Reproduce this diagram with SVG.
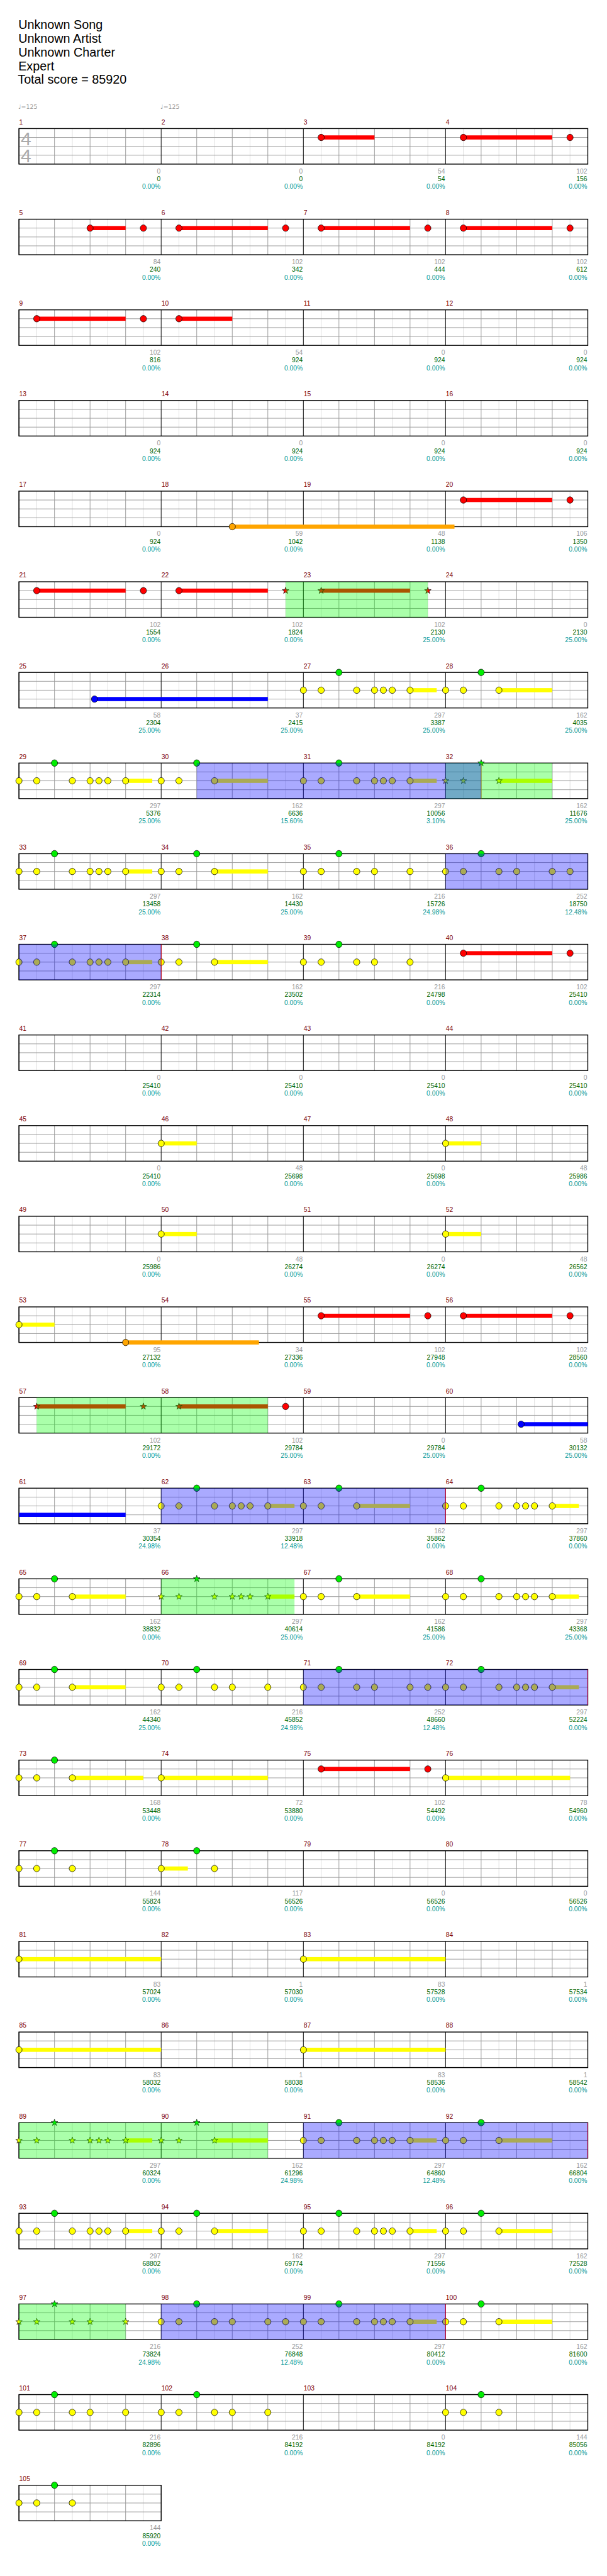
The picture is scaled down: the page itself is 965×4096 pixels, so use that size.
<svg xmlns="http://www.w3.org/2000/svg" width="965" height="4096" viewBox="0 0 965 4096">
<style>
text{font-family:"Liberation Sans",Arial,sans-serif}
.t{font-size:21px;fill:#000}
.tp{font-family:"DejaVu Sans",sans-serif;font-size:10px;fill:#999}
.ts{font-size:32px;fill:#aaa}
.mn{font-size:11px;fill:#800000}
.a,.b,.c{font-size:11px;text-anchor:end}
.a{fill:#999}.b{fill:#060}.c{fill:#099}
.l1{stroke:#ddd;fill:none}.l2{stroke:#999;fill:none}.l3{stroke:#000;fill:none}
.bd{fill:none;stroke:#000;stroke-width:1.5}
.R{fill:#f00}.Y{fill:#ff0}.G{fill:#0e0}.B{fill:#00f}.O{fill:#ffa500}
.gr{fill:#0f0;fill-opacity:.333}.bl{fill:#00f;fill-opacity:.333}
.rl{stroke:#f00;fill:none}
</style>
<defs>
<ellipse id="n" rx="5.3" ry="5.5" stroke="#000" stroke-width=".8"/>
<path id="s" d="M0-5.85L1.38-1.89L5.56-1.81L2.22.72L3.44 4.73L0 2.34L-3.44 4.73L-2.22.72L-5.56-1.81L-1.38-1.89Z" stroke="#000" stroke-width=".7"/>
<g id="gm"><path class="l1" d="M30 0V60M90 0V60M150 0V60M210 0V60"/><path class="l2" d="M60 0V60M120 0V60M180 0V60M0 15H240M0 30H240M0 45H240"/><path class="l3" d="M0 0V60"/></g>
<g id="g4"><use href="#gm" x="32"/><use href="#gm" x="272"/><use href="#gm" x="512"/><use href="#gm" x="752"/><rect x="32" y="0" width="960" height="60" class="bd"/></g>
<g id="g1"><use href="#gm" x="32"/><rect x="32" y="0" width="240" height="60" class="bd"/></g>
<g id="pA"><rect class="Y" x="180" y="26.5" width="45" height="7"/><use href="#n" x="0" y="30" class="Y"/><use href="#n" x="30" y="30" class="Y"/><use href="#n" x="90" y="30" class="Y"/><use href="#n" x="120" y="30" class="Y"/><use href="#n" x="135" y="30" class="Y"/><use href="#n" x="150" y="30" class="Y"/><use href="#n" x="180" y="30" class="Y"/><use href="#n" x="60" y="0" class="G"/></g>
<g id="pB"><rect class="Y" x="90" y="26.5" width="90" height="7"/><use href="#n" x="0" y="30" class="Y"/><use href="#n" x="30" y="30" class="Y"/><use href="#n" x="90" y="30" class="Y"/><use href="#n" x="60" y="0" class="G"/></g>
<g id="pC"><use href="#n" x="0" y="30" class="Y"/><use href="#n" x="30" y="30" class="Y"/><use href="#n" x="90" y="30" class="Y"/><use href="#n" x="120" y="30" class="Y"/><use href="#n" x="180" y="30" class="Y"/><use href="#n" x="60" y="0" class="G"/></g>
<g id="pD"><use href="#n" x="0" y="30" class="Y"/><use href="#n" x="30" y="30" class="Y"/><use href="#n" x="90" y="30" class="Y"/><use href="#n" x="120" y="30" class="Y"/><use href="#n" x="180" y="30" class="Y"/><use href="#n" x="210" y="30" class="Y"/><use href="#n" x="60" y="0" class="G"/></g>
<g id="pF"><use href="#n" x="0" y="30" class="Y"/><use href="#n" x="30" y="30" class="Y"/><use href="#n" x="90" y="30" class="Y"/><use href="#n" x="60" y="0" class="G"/></g>
<g id="pR"><rect class="R" x="30" y="11.5" width="150" height="7"/><use href="#n" x="30" y="15" class="R"/><use href="#n" x="210" y="15" class="R"/></g>
<g id="sA"><rect class="Y" x="180" y="26.5" width="45" height="7"/><use href="#s" x="0" y="30" class="Y"/><use href="#s" x="30" y="30" class="Y"/><use href="#s" x="90" y="30" class="Y"/><use href="#s" x="120" y="30" class="Y"/><use href="#s" x="135" y="30" class="Y"/><use href="#s" x="150" y="30" class="Y"/><use href="#s" x="180" y="30" class="Y"/><use href="#s" x="60" y="0" class="G"/></g>
<g id="sB"><rect class="Y" x="90" y="26.5" width="90" height="7"/><use href="#s" x="0" y="30" class="Y"/><use href="#s" x="30" y="30" class="Y"/><use href="#s" x="90" y="30" class="Y"/><use href="#s" x="60" y="0" class="G"/></g>
<g id="sC"><use href="#s" x="0" y="30" class="Y"/><use href="#s" x="30" y="30" class="Y"/><use href="#s" x="90" y="30" class="Y"/><use href="#s" x="120" y="30" class="Y"/><use href="#s" x="180" y="30" class="Y"/><use href="#s" x="60" y="0" class="G"/></g>
<g id="pL"><rect class="Y" x="0" y="26.5" width="240" height="7"/><use href="#n" x="0" y="30" class="Y"/></g>
<g id="pS"><rect class="Y" x="0" y="26.5" width="60" height="7"/><use href="#n" x="0" y="30" class="Y"/></g>
</defs>
<g transform="scale(0.942)">
<rect x="0" y="0" width="1024" height="4348" fill="#fff"/>
<g id="header">
<text class="t" x="31" y="49">Unknown Song</text>
<text class="t" x="31" y="72">Unknown Artist</text>
<text class="t" x="31" y="95.5">Unknown Charter</text>
<text class="t" x="31" y="118.5">Expert</text>
<text class="t" x="30" y="141.5">Total score = 85920</text>
<text class="tp" x="31" y="184">♩=125</text>
<text class="tp" x="271" y="184">♩=125</text>
</g>

<g id="row1" transform="translate(0,217)"><use href="#g4"/>
<text class="ts" x="35" y="28">4</text><text class="ts" x="35" y="57">4</text>
<g id="m1" transform="translate(32,0)"><text class="mn" x=".5" y="-7">1</text><text class="a" x="239" y="76">0</text><text class="b" x="239" y="89">0</text><text class="c" x="239" y="102">0.00%</text></g>
<g id="m2" transform="translate(272,0)"><text class="mn" x=".5" y="-7">2</text><text class="a" x="239" y="76">0</text><text class="b" x="239" y="89">0</text><text class="c" x="239" y="102">0.00%</text></g>
<g id="m3" transform="translate(512,0)"><rect class="R" x="30" y="11.5" width="90" height="7"/><use href="#n" x="30" y="15" class="R"/><text class="mn" x=".5" y="-7">3</text><text class="a" x="239" y="76">54</text><text class="b" x="239" y="89">54</text><text class="c" x="239" y="102">0.00%</text></g>
<g id="m4" transform="translate(752,0)"><use href="#pR"/><text class="mn" x=".5" y="-7">4</text><text class="a" x="239" y="76">102</text><text class="b" x="239" y="89">156</text><text class="c" x="239" y="102">0.00%</text></g>
</g>

<g id="row2" transform="translate(0,370)"><use href="#g4"/>
<g id="m5" transform="translate(32,0)"><rect class="R" x="120" y="11.5" width="60" height="7"/><use href="#n" x="120" y="15" class="R"/><use href="#n" x="210" y="15" class="R"/><text class="mn" x=".5" y="-7">5</text><text class="a" x="239" y="76">84</text><text class="b" x="239" y="89">240</text><text class="c" x="239" y="102">0.00%</text></g>
<g id="m6" transform="translate(272,0)"><use href="#pR"/><text class="mn" x=".5" y="-7">6</text><text class="a" x="239" y="76">102</text><text class="b" x="239" y="89">342</text><text class="c" x="239" y="102">0.00%</text></g>
<g id="m7" transform="translate(512,0)"><use href="#pR"/><text class="mn" x=".5" y="-7">7</text><text class="a" x="239" y="76">102</text><text class="b" x="239" y="89">444</text><text class="c" x="239" y="102">0.00%</text></g>
<g id="m8" transform="translate(752,0)"><use href="#pR"/><text class="mn" x=".5" y="-7">8</text><text class="a" x="239" y="76">102</text><text class="b" x="239" y="89">612</text><text class="c" x="239" y="102">0.00%</text></g>
</g>

<g id="row3" transform="translate(0,523)"><use href="#g4"/>
<g id="m9" transform="translate(32,0)"><use href="#pR"/><text class="mn" x=".5" y="-7">9</text><text class="a" x="239" y="76">102</text><text class="b" x="239" y="89">816</text><text class="c" x="239" y="102">0.00%</text></g>
<g id="m10" transform="translate(272,0)"><rect class="R" x="30" y="11.5" width="90" height="7"/><use href="#n" x="30" y="15" class="R"/><text class="mn" x=".5" y="-7">10</text><text class="a" x="239" y="76">54</text><text class="b" x="239" y="89">924</text><text class="c" x="239" y="102">0.00%</text></g>
<g id="m11" transform="translate(512,0)"><text class="mn" x=".5" y="-7">11</text><text class="a" x="239" y="76">0</text><text class="b" x="239" y="89">924</text><text class="c" x="239" y="102">0.00%</text></g>
<g id="m12" transform="translate(752,0)"><text class="mn" x=".5" y="-7">12</text><text class="a" x="239" y="76">0</text><text class="b" x="239" y="89">924</text><text class="c" x="239" y="102">0.00%</text></g>
</g>

<g id="row4" transform="translate(0,676)"><use href="#g4"/>
<g id="m13" transform="translate(32,0)"><text class="mn" x=".5" y="-7">13</text><text class="a" x="239" y="76">0</text><text class="b" x="239" y="89">924</text><text class="c" x="239" y="102">0.00%</text></g>
<g id="m14" transform="translate(272,0)"><text class="mn" x=".5" y="-7">14</text><text class="a" x="239" y="76">0</text><text class="b" x="239" y="89">924</text><text class="c" x="239" y="102">0.00%</text></g>
<g id="m15" transform="translate(512,0)"><text class="mn" x=".5" y="-7">15</text><text class="a" x="239" y="76">0</text><text class="b" x="239" y="89">924</text><text class="c" x="239" y="102">0.00%</text></g>
<g id="m16" transform="translate(752,0)"><text class="mn" x=".5" y="-7">16</text><text class="a" x="239" y="76">0</text><text class="b" x="239" y="89">924</text><text class="c" x="239" y="102">0.00%</text></g>
</g>

<g id="row5" transform="translate(0,829)"><use href="#g4"/>
<g id="m17" transform="translate(32,0)"><text class="mn" x=".5" y="-7">17</text><text class="a" x="239" y="76">0</text><text class="b" x="239" y="89">924</text><text class="c" x="239" y="102">0.00%</text></g>
<g id="m18" transform="translate(272,0)"><rect class="O" x="120" y="56.5" width="375" height="7"/><use href="#n" x="120" y="60" class="O"/><text class="mn" x=".5" y="-7">18</text><text class="a" x="239" y="76">59</text><text class="b" x="239" y="89">1042</text><text class="c" x="239" y="102">0.00%</text></g>
<g id="m19" transform="translate(512,0)"><text class="mn" x=".5" y="-7">19</text><text class="a" x="239" y="76">48</text><text class="b" x="239" y="89">1138</text><text class="c" x="239" y="102">0.00%</text></g>
<g id="m20" transform="translate(752,0)"><use href="#pR"/><text class="mn" x=".5" y="-7">20</text><text class="a" x="239" y="76">106</text><text class="b" x="239" y="89">1350</text><text class="c" x="239" y="102">0.00%</text></g>
</g>

<g id="row6" transform="translate(0,982)"><use href="#g4"/>
<g id="m21" transform="translate(32,0)"><use href="#pR"/><text class="mn" x=".5" y="-7">21</text><text class="a" x="239" y="76">102</text><text class="b" x="239" y="89">1554</text><text class="c" x="239" y="102">0.00%</text></g>
<g id="m22" transform="translate(272,0)"><rect class="R" x="30" y="11.5" width="150" height="7"/><use href="#n" x="30" y="15" class="R"/><use href="#s" x="210" y="15" class="R"/><text class="mn" x=".5" y="-7">22</text><text class="a" x="239" y="76">102</text><text class="b" x="239" y="89">1824</text><text class="c" x="239" y="102">0.00%</text></g>
<g id="m23" transform="translate(512,0)"><rect class="R" x="30" y="11.5" width="150" height="7"/><use href="#s" x="30" y="15" class="R"/><use href="#s" x="210" y="15" class="R"/><text class="mn" x=".5" y="-7">23</text><text class="a" x="239" y="76">102</text><text class="b" x="239" y="89">2130</text><text class="c" x="239" y="102">25.00%</text></g>
<g id="m24" transform="translate(752,0)"><text class="mn" x=".5" y="-7">24</text><text class="a" x="239" y="76">0</text><text class="b" x="239" y="89">2130</text><text class="c" x="239" y="102">25.00%</text></g>
<g id="ov6"><rect class="gr" x="482" y="0" width="240" height="60"/></g>
</g>

<g id="row7" transform="translate(0,1135)"><use href="#g4"/>
<g id="m25" transform="translate(32,0)"><rect class="B" x="127.5" y="41.5" width="292.5" height="7"/><use href="#n" x="127.5" y="45" class="B"/><text class="mn" x=".5" y="-7">25</text><text class="a" x="239" y="76">58</text><text class="b" x="239" y="89">2304</text><text class="c" x="239" y="102">25.00%</text></g>
<g id="m26" transform="translate(272,0)"><text class="mn" x=".5" y="-7">26</text><text class="a" x="239" y="76">37</text><text class="b" x="239" y="89">2415</text><text class="c" x="239" y="102">25.00%</text></g>
<g id="m27" transform="translate(512,0)"><use href="#pA"/><text class="mn" x=".5" y="-7">27</text><text class="a" x="239" y="76">297</text><text class="b" x="239" y="89">3387</text><text class="c" x="239" y="102">25.00%</text></g>
<g id="m28" transform="translate(752,0)"><use href="#pB"/><text class="mn" x=".5" y="-7">28</text><text class="a" x="239" y="76">162</text><text class="b" x="239" y="89">4035</text><text class="c" x="239" y="102">25.00%</text></g>
</g>

<g id="row8" transform="translate(0,1288)"><use href="#g4"/>
<g id="m29" transform="translate(32,0)"><use href="#pA"/><text class="mn" x=".5" y="-7">29</text><text class="a" x="239" y="76">297</text><text class="b" x="239" y="89">5376</text><text class="c" x="239" y="102">25.00%</text></g>
<g id="m30" transform="translate(272,0)"><use href="#pB"/><text class="mn" x=".5" y="-7">30</text><text class="a" x="239" y="76">162</text><text class="b" x="239" y="89">6636</text><text class="c" x="239" y="102">15.60%</text></g>
<g id="m31" transform="translate(512,0)"><use href="#pA"/><text class="mn" x=".5" y="-7">31</text><text class="a" x="239" y="76">297</text><text class="b" x="239" y="89">10056</text><text class="c" x="239" y="102">3.10%</text></g>
<g id="m32" transform="translate(752,0)"><use href="#sB"/><text class="mn" x=".5" y="-7">32</text><text class="a" x="239" y="76">162</text><text class="b" x="239" y="89">11676</text><text class="c" x="239" y="102">25.00%</text></g>
<g id="ov8"><path class="rl" d="M812 0V60"/><rect class="gr" x="752" y="0" width="180" height="60"/><rect class="bl" x="332" y="0" width="480" height="60"/></g>
</g>

<g id="row9" transform="translate(0,1441)"><use href="#g4"/>
<g id="m33" transform="translate(32,0)"><use href="#pA"/><text class="mn" x=".5" y="-7">33</text><text class="a" x="239" y="76">297</text><text class="b" x="239" y="89">13458</text><text class="c" x="239" y="102">25.00%</text></g>
<g id="m34" transform="translate(272,0)"><use href="#pB"/><text class="mn" x=".5" y="-7">34</text><text class="a" x="239" y="76">162</text><text class="b" x="239" y="89">14430</text><text class="c" x="239" y="102">25.00%</text></g>
<g id="m35" transform="translate(512,0)"><use href="#pC"/><text class="mn" x=".5" y="-7">35</text><text class="a" x="239" y="76">216</text><text class="b" x="239" y="89">15726</text><text class="c" x="239" y="102">24.98%</text></g>
<g id="m36" transform="translate(752,0)"><use href="#pD"/><text class="mn" x=".5" y="-7">36</text><text class="a" x="239" y="76">252</text><text class="b" x="239" y="89">18750</text><text class="c" x="239" y="102">12.48%</text></g>
<g id="ov9"><rect class="bl" x="752" y="0" width="240" height="60"/></g>
</g>

<g id="row10" transform="translate(0,1594)"><use href="#g4"/>
<g id="m37" transform="translate(32,0)"><use href="#pA"/><text class="mn" x=".5" y="-7">37</text><text class="a" x="239" y="76">297</text><text class="b" x="239" y="89">22314</text><text class="c" x="239" y="102">0.00%</text></g>
<g id="m38" transform="translate(272,0)"><use href="#pB"/><text class="mn" x=".5" y="-7">38</text><text class="a" x="239" y="76">162</text><text class="b" x="239" y="89">23502</text><text class="c" x="239" y="102">0.00%</text></g>
<g id="m39" transform="translate(512,0)"><use href="#pC"/><text class="mn" x=".5" y="-7">39</text><text class="a" x="239" y="76">216</text><text class="b" x="239" y="89">24798</text><text class="c" x="239" y="102">0.00%</text></g>
<g id="m40" transform="translate(752,0)"><use href="#pR"/><text class="mn" x=".5" y="-7">40</text><text class="a" x="239" y="76">102</text><text class="b" x="239" y="89">25410</text><text class="c" x="239" y="102">0.00%</text></g>
<g id="ov10"><path class="rl" d="M272 0V60"/><rect class="bl" x="32" y="0" width="240" height="60"/></g>
</g>

<g id="row11" transform="translate(0,1747)"><use href="#g4"/>
<g id="m41" transform="translate(32,0)"><text class="mn" x=".5" y="-7">41</text><text class="a" x="239" y="76">0</text><text class="b" x="239" y="89">25410</text><text class="c" x="239" y="102">0.00%</text></g>
<g id="m42" transform="translate(272,0)"><text class="mn" x=".5" y="-7">42</text><text class="a" x="239" y="76">0</text><text class="b" x="239" y="89">25410</text><text class="c" x="239" y="102">0.00%</text></g>
<g id="m43" transform="translate(512,0)"><text class="mn" x=".5" y="-7">43</text><text class="a" x="239" y="76">0</text><text class="b" x="239" y="89">25410</text><text class="c" x="239" y="102">0.00%</text></g>
<g id="m44" transform="translate(752,0)"><text class="mn" x=".5" y="-7">44</text><text class="a" x="239" y="76">0</text><text class="b" x="239" y="89">25410</text><text class="c" x="239" y="102">0.00%</text></g>
</g>

<g id="row12" transform="translate(0,1900)"><use href="#g4"/>
<g id="m45" transform="translate(32,0)"><text class="mn" x=".5" y="-7">45</text><text class="a" x="239" y="76">0</text><text class="b" x="239" y="89">25410</text><text class="c" x="239" y="102">0.00%</text></g>
<g id="m46" transform="translate(272,0)"><use href="#pS"/><text class="mn" x=".5" y="-7">46</text><text class="a" x="239" y="76">48</text><text class="b" x="239" y="89">25698</text><text class="c" x="239" y="102">0.00%</text></g>
<g id="m47" transform="translate(512,0)"><text class="mn" x=".5" y="-7">47</text><text class="a" x="239" y="76">0</text><text class="b" x="239" y="89">25698</text><text class="c" x="239" y="102">0.00%</text></g>
<g id="m48" transform="translate(752,0)"><use href="#pS"/><text class="mn" x=".5" y="-7">48</text><text class="a" x="239" y="76">48</text><text class="b" x="239" y="89">25986</text><text class="c" x="239" y="102">0.00%</text></g>
</g>

<g id="row13" transform="translate(0,2053)"><use href="#g4"/>
<g id="m49" transform="translate(32,0)"><text class="mn" x=".5" y="-7">49</text><text class="a" x="239" y="76">0</text><text class="b" x="239" y="89">25986</text><text class="c" x="239" y="102">0.00%</text></g>
<g id="m50" transform="translate(272,0)"><use href="#pS"/><text class="mn" x=".5" y="-7">50</text><text class="a" x="239" y="76">48</text><text class="b" x="239" y="89">26274</text><text class="c" x="239" y="102">0.00%</text></g>
<g id="m51" transform="translate(512,0)"><text class="mn" x=".5" y="-7">51</text><text class="a" x="239" y="76">0</text><text class="b" x="239" y="89">26274</text><text class="c" x="239" y="102">0.00%</text></g>
<g id="m52" transform="translate(752,0)"><use href="#pS"/><text class="mn" x=".5" y="-7">52</text><text class="a" x="239" y="76">48</text><text class="b" x="239" y="89">26562</text><text class="c" x="239" y="102">0.00%</text></g>
</g>

<g id="row14" transform="translate(0,2206)"><use href="#g4"/>
<g id="m53" transform="translate(32,0)"><use href="#pS"/><rect class="O" x="180" y="56.5" width="225" height="7"/><use href="#n" x="180" y="60" class="O"/><text class="mn" x=".5" y="-7">53</text><text class="a" x="239" y="76">95</text><text class="b" x="239" y="89">27132</text><text class="c" x="239" y="102">0.00%</text></g>
<g id="m54" transform="translate(272,0)"><text class="mn" x=".5" y="-7">54</text><text class="a" x="239" y="76">34</text><text class="b" x="239" y="89">27336</text><text class="c" x="239" y="102">0.00%</text></g>
<g id="m55" transform="translate(512,0)"><use href="#pR"/><text class="mn" x=".5" y="-7">55</text><text class="a" x="239" y="76">102</text><text class="b" x="239" y="89">27948</text><text class="c" x="239" y="102">0.00%</text></g>
<g id="m56" transform="translate(752,0)"><use href="#pR"/><text class="mn" x=".5" y="-7">56</text><text class="a" x="239" y="76">102</text><text class="b" x="239" y="89">28560</text><text class="c" x="239" y="102">0.00%</text></g>
</g>

<g id="row15" transform="translate(0,2359)"><use href="#g4"/>
<g id="m57" transform="translate(32,0)"><rect class="R" x="30" y="11.5" width="150" height="7"/><use href="#s" x="30" y="15" class="R"/><use href="#s" x="210" y="15" class="R"/><text class="mn" x=".5" y="-7">57</text><text class="a" x="239" y="76">102</text><text class="b" x="239" y="89">29172</text><text class="c" x="239" y="102">0.00%</text></g>
<g id="m58" transform="translate(272,0)"><rect class="R" x="30" y="11.5" width="150" height="7"/><use href="#s" x="30" y="15" class="R"/><use href="#n" x="210" y="15" class="R"/><text class="mn" x=".5" y="-7">58</text><text class="a" x="239" y="76">102</text><text class="b" x="239" y="89">29784</text><text class="c" x="239" y="102">25.00%</text></g>
<g id="m59" transform="translate(512,0)"><text class="mn" x=".5" y="-7">59</text><text class="a" x="239" y="76">0</text><text class="b" x="239" y="89">29784</text><text class="c" x="239" y="102">25.00%</text></g>
<g id="m60" transform="translate(752,0)"><rect class="B" x="127.5" y="41.5" width="112.5" height="7"/><use href="#n" x="127.5" y="45" class="B"/><text class="mn" x=".5" y="-7">60</text><text class="a" x="239" y="76">58</text><text class="b" x="239" y="89">30132</text><text class="c" x="239" y="102">25.00%</text></g>
<g id="ov15"><rect class="gr" x="62" y="0" width="390" height="60"/></g>
</g>

<g id="row16" transform="translate(0,2512)"><use href="#g4"/>
<g id="m61" transform="translate(32,0)"><rect class="B" x="0" y="41.5" width="180" height="7"/><text class="mn" x=".5" y="-7">61</text><text class="a" x="239" y="76">37</text><text class="b" x="239" y="89">30354</text><text class="c" x="239" y="102">24.98%</text></g>
<g id="m62" transform="translate(272,0)"><use href="#pA"/><text class="mn" x=".5" y="-7">62</text><text class="a" x="239" y="76">297</text><text class="b" x="239" y="89">33918</text><text class="c" x="239" y="102">12.48%</text></g>
<g id="m63" transform="translate(512,0)"><use href="#pB"/><text class="mn" x=".5" y="-7">63</text><text class="a" x="239" y="76">162</text><text class="b" x="239" y="89">35862</text><text class="c" x="239" y="102">0.00%</text></g>
<g id="m64" transform="translate(752,0)"><use href="#pA"/><text class="mn" x=".5" y="-7">64</text><text class="a" x="239" y="76">297</text><text class="b" x="239" y="89">37860</text><text class="c" x="239" y="102">0.00%</text></g>
<g id="ov16"><path class="rl" d="M752 0V60"/><rect class="bl" x="272" y="0" width="480" height="60"/></g>
</g>

<g id="row17" transform="translate(0,2665)"><use href="#g4"/>
<g id="m65" transform="translate(32,0)"><use href="#pB"/><text class="mn" x=".5" y="-7">65</text><text class="a" x="239" y="76">162</text><text class="b" x="239" y="89">38832</text><text class="c" x="239" y="102">0.00%</text></g>
<g id="m66" transform="translate(272,0)"><use href="#sA"/><text class="mn" x=".5" y="-7">66</text><text class="a" x="239" y="76">297</text><text class="b" x="239" y="89">40614</text><text class="c" x="239" y="102">25.00%</text></g>
<g id="m67" transform="translate(512,0)"><use href="#pB"/><text class="mn" x=".5" y="-7">67</text><text class="a" x="239" y="76">162</text><text class="b" x="239" y="89">41586</text><text class="c" x="239" y="102">25.00%</text></g>
<g id="m68" transform="translate(752,0)"><use href="#pA"/><text class="mn" x=".5" y="-7">68</text><text class="a" x="239" y="76">297</text><text class="b" x="239" y="89">43368</text><text class="c" x="239" y="102">25.00%</text></g>
<g id="ov17"><rect class="gr" x="272" y="0" width="225" height="60"/></g>
</g>

<g id="row18" transform="translate(0,2818)"><use href="#g4"/>
<g id="m69" transform="translate(32,0)"><use href="#pB"/><text class="mn" x=".5" y="-7">69</text><text class="a" x="239" y="76">162</text><text class="b" x="239" y="89">44340</text><text class="c" x="239" y="102">25.00%</text></g>
<g id="m70" transform="translate(272,0)"><use href="#pC"/><text class="mn" x=".5" y="-7">70</text><text class="a" x="239" y="76">216</text><text class="b" x="239" y="89">45852</text><text class="c" x="239" y="102">24.98%</text></g>
<g id="m71" transform="translate(512,0)"><use href="#pD"/><text class="mn" x=".5" y="-7">71</text><text class="a" x="239" y="76">252</text><text class="b" x="239" y="89">48660</text><text class="c" x="239" y="102">12.48%</text></g>
<g id="m72" transform="translate(752,0)"><use href="#pA"/><text class="mn" x=".5" y="-7">72</text><text class="a" x="239" y="76">297</text><text class="b" x="239" y="89">52224</text><text class="c" x="239" y="102">0.00%</text></g>
<g id="ov18"><path class="rl" d="M992 0V60"/><rect class="bl" x="512" y="0" width="480" height="60"/></g>
</g>

<g id="row19" transform="translate(0,2971)"><use href="#g4"/>
<g id="m73" transform="translate(32,0)"><rect class="Y" x="90" y="26.5" width="120" height="7"/><use href="#pF"/><text class="mn" x=".5" y="-7">73</text><text class="a" x="239" y="76">168</text><text class="b" x="239" y="89">53448</text><text class="c" x="239" y="102">0.00%</text></g>
<g id="m74" transform="translate(272,0)"><rect class="Y" x="0" y="26.5" width="180" height="7"/><use href="#n" x="0" y="30" class="Y"/><text class="mn" x=".5" y="-7">74</text><text class="a" x="239" y="76">72</text><text class="b" x="239" y="89">53880</text><text class="c" x="239" y="102">0.00%</text></g>
<g id="m75" transform="translate(512,0)"><use href="#pR"/><text class="mn" x=".5" y="-7">75</text><text class="a" x="239" y="76">102</text><text class="b" x="239" y="89">54492</text><text class="c" x="239" y="102">0.00%</text></g>
<g id="m76" transform="translate(752,0)"><rect class="Y" x="0" y="26.5" width="210" height="7"/><use href="#n" x="0" y="30" class="Y"/><text class="mn" x=".5" y="-7">76</text><text class="a" x="239" y="76">78</text><text class="b" x="239" y="89">54960</text><text class="c" x="239" y="102">0.00%</text></g>
</g>

<g id="row20" transform="translate(0,3124)"><use href="#g4"/>
<g id="m77" transform="translate(32,0)"><use href="#pF"/><text class="mn" x=".5" y="-7">77</text><text class="a" x="239" y="76">144</text><text class="b" x="239" y="89">55824</text><text class="c" x="239" y="102">0.00%</text></g>
<g id="m78" transform="translate(272,0)"><rect class="Y" x="0" y="26.5" width="45" height="7"/><use href="#n" x="0" y="30" class="Y"/><use href="#n" x="90" y="30" class="Y"/><use href="#n" x="60" y="0" class="G"/><text class="mn" x=".5" y="-7">78</text><text class="a" x="239" y="76">117</text><text class="b" x="239" y="89">56526</text><text class="c" x="239" y="102">0.00%</text></g>
<g id="m79" transform="translate(512,0)"><text class="mn" x=".5" y="-7">79</text><text class="a" x="239" y="76">0</text><text class="b" x="239" y="89">56526</text><text class="c" x="239" y="102">0.00%</text></g>
<g id="m80" transform="translate(752,0)"><text class="mn" x=".5" y="-7">80</text><text class="a" x="239" y="76">0</text><text class="b" x="239" y="89">56526</text><text class="c" x="239" y="102">0.00%</text></g>
</g>

<g id="row21" transform="translate(0,3277)"><use href="#g4"/>
<g id="m81" transform="translate(32,0)"><use href="#pL"/><text class="mn" x=".5" y="-7">81</text><text class="a" x="239" y="76">83</text><text class="b" x="239" y="89">57024</text><text class="c" x="239" y="102">0.00%</text></g>
<g id="m82" transform="translate(272,0)"><text class="mn" x=".5" y="-7">82</text><text class="a" x="239" y="76">1</text><text class="b" x="239" y="89">57030</text><text class="c" x="239" y="102">0.00%</text></g>
<g id="m83" transform="translate(512,0)"><use href="#pL"/><text class="mn" x=".5" y="-7">83</text><text class="a" x="239" y="76">83</text><text class="b" x="239" y="89">57528</text><text class="c" x="239" y="102">0.00%</text></g>
<g id="m84" transform="translate(752,0)"><text class="mn" x=".5" y="-7">84</text><text class="a" x="239" y="76">1</text><text class="b" x="239" y="89">57534</text><text class="c" x="239" y="102">0.00%</text></g>
</g>

<g id="row22" transform="translate(0,3430)"><use href="#g4"/>
<g id="m85" transform="translate(32,0)"><use href="#pL"/><text class="mn" x=".5" y="-7">85</text><text class="a" x="239" y="76">83</text><text class="b" x="239" y="89">58032</text><text class="c" x="239" y="102">0.00%</text></g>
<g id="m86" transform="translate(272,0)"><text class="mn" x=".5" y="-7">86</text><text class="a" x="239" y="76">1</text><text class="b" x="239" y="89">58038</text><text class="c" x="239" y="102">0.00%</text></g>
<g id="m87" transform="translate(512,0)"><use href="#pL"/><text class="mn" x=".5" y="-7">87</text><text class="a" x="239" y="76">83</text><text class="b" x="239" y="89">58536</text><text class="c" x="239" y="102">0.00%</text></g>
<g id="m88" transform="translate(752,0)"><text class="mn" x=".5" y="-7">88</text><text class="a" x="239" y="76">1</text><text class="b" x="239" y="89">58542</text><text class="c" x="239" y="102">0.00%</text></g>
</g>

<g id="row23" transform="translate(0,3583)"><use href="#g4"/>
<g id="m89" transform="translate(32,0)"><use href="#sA"/><text class="mn" x=".5" y="-7">89</text><text class="a" x="239" y="76">297</text><text class="b" x="239" y="89">60324</text><text class="c" x="239" y="102">0.00%</text></g>
<g id="m90" transform="translate(272,0)"><use href="#sB"/><text class="mn" x=".5" y="-7">90</text><text class="a" x="239" y="76">162</text><text class="b" x="239" y="89">61296</text><text class="c" x="239" y="102">24.98%</text></g>
<g id="m91" transform="translate(512,0)"><use href="#pA"/><text class="mn" x=".5" y="-7">91</text><text class="a" x="239" y="76">297</text><text class="b" x="239" y="89">64860</text><text class="c" x="239" y="102">12.48%</text></g>
<g id="m92" transform="translate(752,0)"><use href="#pB"/><text class="mn" x=".5" y="-7">92</text><text class="a" x="239" y="76">162</text><text class="b" x="239" y="89">66804</text><text class="c" x="239" y="102">0.00%</text></g>
<g id="ov23"><rect class="gr" x="32" y="0" width="420" height="60"/><path class="rl" d="M992 0V60"/><rect class="bl" x="512" y="0" width="480" height="60"/></g>
</g>

<g id="row24" transform="translate(0,3736)"><use href="#g4"/>
<g id="m93" transform="translate(32,0)"><use href="#pA"/><text class="mn" x=".5" y="-7">93</text><text class="a" x="239" y="76">297</text><text class="b" x="239" y="89">68802</text><text class="c" x="239" y="102">0.00%</text></g>
<g id="m94" transform="translate(272,0)"><use href="#pB"/><text class="mn" x=".5" y="-7">94</text><text class="a" x="239" y="76">162</text><text class="b" x="239" y="89">69774</text><text class="c" x="239" y="102">0.00%</text></g>
<g id="m95" transform="translate(512,0)"><use href="#pA"/><text class="mn" x=".5" y="-7">95</text><text class="a" x="239" y="76">297</text><text class="b" x="239" y="89">71556</text><text class="c" x="239" y="102">0.00%</text></g>
<g id="m96" transform="translate(752,0)"><use href="#pB"/><text class="mn" x=".5" y="-7">96</text><text class="a" x="239" y="76">162</text><text class="b" x="239" y="89">72528</text><text class="c" x="239" y="102">0.00%</text></g>
</g>

<g id="row25" transform="translate(0,3889)"><use href="#g4"/>
<g id="m97" transform="translate(32,0)"><use href="#sC"/><text class="mn" x=".5" y="-7">97</text><text class="a" x="239" y="76">216</text><text class="b" x="239" y="89">73824</text><text class="c" x="239" y="102">24.98%</text></g>
<g id="m98" transform="translate(272,0)"><use href="#pD"/><text class="mn" x=".5" y="-7">98</text><text class="a" x="239" y="76">252</text><text class="b" x="239" y="89">76848</text><text class="c" x="239" y="102">12.48%</text></g>
<g id="m99" transform="translate(512,0)"><use href="#pA"/><text class="mn" x=".5" y="-7">99</text><text class="a" x="239" y="76">297</text><text class="b" x="239" y="89">80412</text><text class="c" x="239" y="102">0.00%</text></g>
<g id="m100" transform="translate(752,0)"><use href="#pB"/><text class="mn" x=".5" y="-7">100</text><text class="a" x="239" y="76">162</text><text class="b" x="239" y="89">81600</text><text class="c" x="239" y="102">0.00%</text></g>
<g id="ov25"><rect class="gr" x="32" y="0" width="180" height="60"/><path class="rl" d="M752 0V60"/><rect class="bl" x="272" y="0" width="480" height="60"/></g>
</g>

<g id="row26" transform="translate(0,4042)"><use href="#g4"/>
<g id="m101" transform="translate(32,0)"><use href="#pC"/><text class="mn" x=".5" y="-7">101</text><text class="a" x="239" y="76">216</text><text class="b" x="239" y="89">82896</text><text class="c" x="239" y="102">0.00%</text></g>
<g id="m102" transform="translate(272,0)"><use href="#pC"/><text class="mn" x=".5" y="-7">102</text><text class="a" x="239" y="76">216</text><text class="b" x="239" y="89">84192</text><text class="c" x="239" y="102">0.00%</text></g>
<g id="m103" transform="translate(512,0)"><text class="mn" x=".5" y="-7">103</text><text class="a" x="239" y="76">0</text><text class="b" x="239" y="89">84192</text><text class="c" x="239" y="102">0.00%</text></g>
<g id="m104" transform="translate(752,0)"><use href="#pF"/><text class="mn" x=".5" y="-7">104</text><text class="a" x="239" y="76">144</text><text class="b" x="239" y="89">85056</text><text class="c" x="239" y="102">0.00%</text></g>
</g>

<g id="row27" transform="translate(0,4195)"><use href="#g1"/>
<g id="m105" transform="translate(32,0)"><use href="#pF"/><text class="mn" x=".5" y="-7">105</text><text class="a" x="239" y="76">144</text><text class="b" x="239" y="89">85920</text><text class="c" x="239" y="102">0.00%</text></g>
</g>
</g>
</svg>
